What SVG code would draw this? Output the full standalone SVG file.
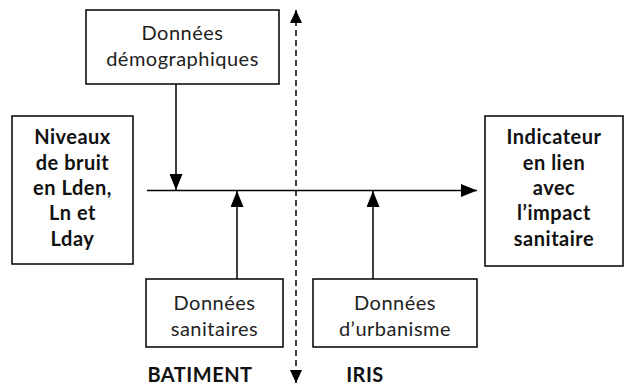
<svg xmlns="http://www.w3.org/2000/svg" width="624" height="387" viewBox="0 0 624 387">
<defs>
<marker id="ah" viewBox="0 0 10 10" refX="10" refY="5" markerWidth="16" markerHeight="13" markerUnits="userSpaceOnUse" orient="auto-start-reverse" preserveAspectRatio="none">
<path d="M0,0 L10,5 L0,10 z" fill="#000"/>
</marker>
<marker id="ahd" viewBox="0 0 10 10" refX="10" refY="5" markerWidth="13" markerHeight="12" markerUnits="userSpaceOnUse" orient="auto-start-reverse" preserveAspectRatio="none">
<path d="M0,0 L10,5 L0,10 z" fill="#000"/>
</marker>
<style>
.box{fill:#fff;stroke:#000;stroke-width:1.5}
.t{font-family:Lato,"Open Sans","Liberation Sans",sans-serif;font-size:20px;letter-spacing:0.5px;fill:#222;text-anchor:middle}
.b{font-weight:bold;fill:#111}
.line{stroke:#000;stroke-width:1.5;fill:none}
</style>
</defs>
<rect width="624" height="387" fill="#fff"/>
<g id="connectors">
<line class="line" x1="147" y1="190.5" x2="477" y2="190.5" marker-end="url(#ah)"/>
<line class="line" x1="176" y1="84" x2="176" y2="190" marker-end="url(#ah)"/>
<line class="line" x1="237" y1="279" x2="237" y2="191" marker-end="url(#ah)"/>
<line class="line" x1="373" y1="279" x2="373" y2="191" marker-end="url(#ah)"/>
<line class="line" x1="296" y1="10" x2="296" y2="383" stroke-dasharray="6,4" marker-start="url(#ahd)" marker-end="url(#ahd)"/>
</g>
<g id="demographiques">
<rect class="box" x="86" y="10" width="193" height="74"/>
<text class="t" x="182.5" y="40">Données</text>
<text class="t" x="182.5" y="66">démographiques</text>
</g>
<g id="niveaux">
<rect class="box" x="12" y="116" width="121" height="148"/>
<text class="t b" x="72.5" y="144">Niveaux</text>
<text class="t b" x="72.5" y="170">de bruit</text>
<text class="t b" x="72.5" y="195">en Lden,</text>
<text class="t b" x="72.5" y="220">Ln et</text>
<text class="t b" x="72.5" y="246">Lday</text>
</g>
<g id="indicateur">
<rect class="box" x="485" y="116" width="138" height="150"/>
<text class="t b" x="554" y="144">Indicateur</text>
<text class="t b" x="554" y="170">en lien</text>
<text class="t b" x="554" y="195">avec</text>
<text class="t b" x="554" y="220">l’impact</text>
<text class="t b" x="554" y="246">sanitaire</text>
</g>
<g id="sanitaires">
<rect class="box" x="146" y="279" width="137" height="68"/>
<text class="t" x="214.5" y="310">Données</text>
<text class="t" x="214.5" y="336">sanitaires</text>
</g>
<g id="urbanisme">
<rect class="box" x="313" y="279" width="164" height="68"/>
<text class="t" x="395" y="310">Données</text>
<text class="t" x="395" y="336">d’urbanisme</text>
</g>
<g id="labels">
<text class="t b" x="200" y="382">BATIMENT</text>
<text class="t b" x="365" y="382">IRIS</text>
</g>
</svg>
